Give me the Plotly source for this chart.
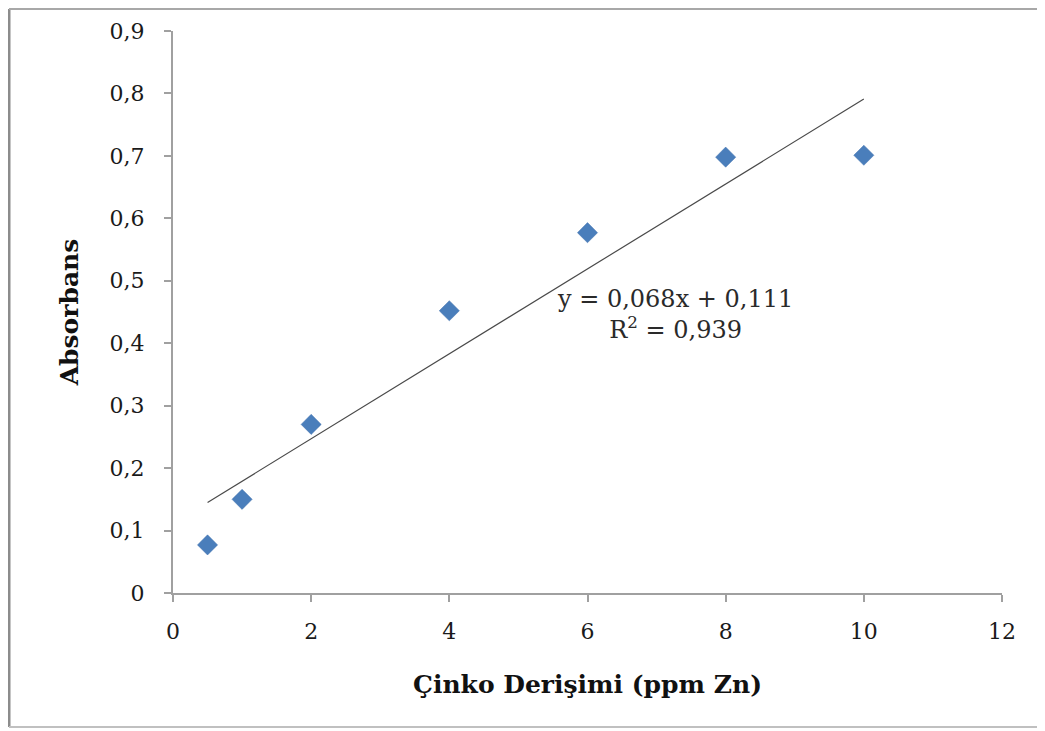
import plotly.graph_objects as go

# Data
concentration = [0.5, 1, 2, 4, 6, 8, 10]
absorbance = [0.077, 0.150, 0.270, 0.452, 0.577, 0.698, 0.701]
trend_slope = 0.068
trend_intercept = 0.111
x_ticks = [0, 2, 4, 6, 8, 10, 12]
x_tick_labels = ["0", "2", "4", "6", "8", "10", "12"]
y_ticks = [0, 0.1, 0.2, 0.3, 0.4, 0.5, 0.6, 0.7, 0.8, 0.9]
y_tick_labels = ["0", "0,1", "0,2", "0,3", "0,4", "0,5", "0,6", "0,7", "0,8", "0,9"]

trend_x = [min(concentration), max(concentration)]
trend_y = [trend_slope * x + trend_intercept for x in trend_x]

SERIF = "DejaVu Serif, Liberation Serif, serif"

# plot-area geometry (absolute page pixels, page has 8px body offset)
L, R, T, B = 173, 1002, 31, 593
OFF = 8
W, H = 1045, 731
pw, ph = R - L, B - T


def px(xa):
    return (xa - L) / pw


def py(ya):
    return (B - ya) / ph


fig = go.Figure()
fig.add_trace(go.Scatter(
    x=trend_x, y=trend_y, mode="lines",
    line=dict(color="#4a4a4a", width=1.2), showlegend=False, hoverinfo="skip"))
fig.add_trace(go.Scatter(
    x=concentration, y=absorbance, mode="markers",
    marker=dict(symbol="diamond", size=15.5, color="#4A7EBB",
                line=dict(color="#4272AE", width=0.5)),
    showlegend=False))

fig.add_annotation(
    x=px(675), y=py(315), xref="paper", yref="paper",
    text="y = 0,068x + 0,111<br>R<sup>2</sup> = 0,939",
    showarrow=False, align="center",
    font=dict(family=SERIF, size=24, color="#2a2a2a"))

# outer frame (left, top, bottom)
fig.add_shape(type="line", xref="paper", yref="paper",
              x0=px(OFF + 1), x1=px(OFF + 1), y0=py(727), y1=py(OFF + 1),
              line=dict(color="#8c8c8c", width=3))
fig.add_shape(type="line", xref="paper", yref="paper",
              x0=px(OFF + 1), x1=px(1045), y0=py(OFF + 1), y1=py(OFF + 1),
              line=dict(color="#a8a8a8", width=2))
fig.add_shape(type="line", xref="paper", yref="paper",
              x0=px(OFF + 1), x1=px(1045), y0=py(727), y1=py(727),
              line=dict(color="#c0c0c0", width=2))

fig.update_layout(
    width=W, height=H,
    margin=dict(l=L - OFF, r=W - R + OFF, t=T - OFF, b=H - B + OFF),
    plot_bgcolor="white", paper_bgcolor="white",
    font=dict(family=SERIF, size=22, color="#1a1a1a"),
    xaxis=dict(range=[0, 12], tickvals=x_ticks, ticktext=x_tick_labels,
               showgrid=False, zeroline=False, showline=True,
               linecolor="#a0a0a0", linewidth=2,
               ticks="outside", ticklen=7, tickcolor="#a0a0a0", tickwidth=2,
               ticklabelstandoff=11,
               tickfont=dict(family=SERIF, size=22, color="#1a1a1a"),
               title=dict(text="<b>Çinko Derişimi (ppm Zn)</b>",
                          font=dict(family=SERIF, size=25, color="#111111"),
                          standoff=32)),
    yaxis=dict(range=[0, 0.9], tickvals=y_ticks, ticktext=y_tick_labels,
               showgrid=False, zeroline=False, showline=True,
               linecolor="#a0a0a0", linewidth=2,
               ticks="outside", ticklen=7, tickcolor="#a0a0a0", tickwidth=2,
               ticklabelstandoff=15,
               tickfont=dict(family=SERIF, size=22, color="#1a1a1a"),
               title=dict(text="<b>Absorbans</b>",
                          font=dict(family=SERIF, size=25, color="#111111"),
                          standoff=24)),
)

fig.write_html("out.html")
